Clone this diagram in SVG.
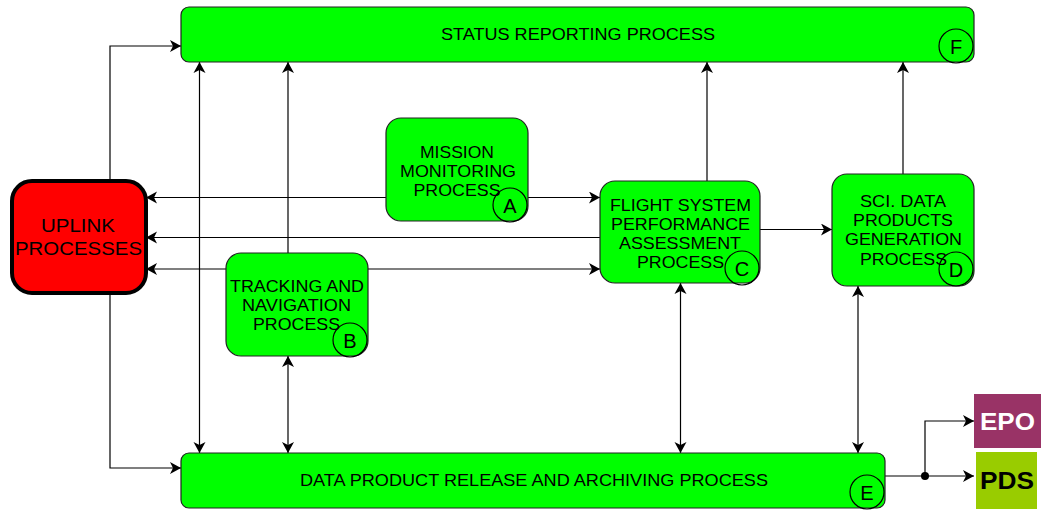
<svg xmlns="http://www.w3.org/2000/svg" width="1041" height="511" viewBox="0 0 1041 511">
<style>
.n{fill:#00ff00;stroke:#222;stroke-width:1.2}
.l{fill:none;stroke:#000;stroke-width:1.2}
text{font-family:"Liberation Sans",Arial,sans-serif;font-size:16.500px;fill:#000;text-anchor:middle}
.k{font-size:20px}
.e{fill:none;stroke:#000;stroke-width:1.2;marker-end:url(#a)}
.d{fill:none;stroke:#000;stroke-width:1.2;marker-start:url(#s);marker-end:url(#a)}
.u{font-size:18.500px}
.b{font-size:24px;font-weight:700}
</style>
<defs>
<marker id="a" markerUnits="userSpaceOnUse" markerWidth="14" markerHeight="14" refX="11" refY="6" orient="auto"><path d="M0,0 L11,6 L0,12 L3,6 Z" fill="#000"/></marker>
<marker id="s" markerUnits="userSpaceOnUse" markerWidth="14" markerHeight="14" refX="0" refY="6" orient="auto"><path d="M11,0 L0,6 L11,12 L8,6 Z" fill="#000"/></marker>
</defs>
<g id="connectors">
<path class="e" d="M110,181V46H181"/>
<path class="e" d="M110,293V468H181"/>
<path class="d" d="M199.500,62V453"/>
<path class="e" d="M288,253V62"/>
<path class="d" d="M288,356V453"/>
<path class="e" d="M386,197.500H146"/>
<path class="e" d="M528,197.500H600"/>
<path class="e" d="M600,237.500H146"/>
<path class="e" d="M226,269H146"/>
<path class="e" d="M368,269H600"/>
<path class="e" d="M707,181V62"/>
<path class="e" d="M903,174V62"/>
<path class="e" d="M760,229.500H832"/>
<path class="d" d="M680.500,283V453"/>
<path class="d" d="M858,286V453"/>
<path class="e" d="M885,476H974"/>
<path class="e" d="M925,476V421H974"/>
<circle cx="925" cy="476" r="4" fill="#000"/>
</g>
<g id="node-f"><rect class="n" x="181" y="7" width="793" height="55" rx="8"/><text x="578" y="40" textLength="274" lengthAdjust="spacingAndGlyphs">STATUS REPORTING PROCESS</text><circle class="l" cx="956" cy="46" r="17"/><text class="k" x="956" y="53.500">F</text></g>
<g id="node-a"><rect class="n" x="386" y="118" width="142" height="103" rx="15"/><text x="457" y="158" textLength="74" lengthAdjust="spacingAndGlyphs">MISSION</text><text x="458" y="177" textLength="116" lengthAdjust="spacingAndGlyphs">MONITORING</text><text x="457" y="196" textLength="87" lengthAdjust="spacingAndGlyphs">PROCESS</text><circle class="l" cx="510" cy="205" r="17"/><text class="k" x="510" y="212.500">A</text></g>
<g id="node-c"><rect class="n" x="600" y="181" width="160" height="102" rx="15"/><text x="680.500" y="211" textLength="141" lengthAdjust="spacingAndGlyphs">FLIGHT SYSTEM</text><text x="680.500" y="230" textLength="139" lengthAdjust="spacingAndGlyphs">PERFORMANCE</text><text x="680" y="249" textLength="122" lengthAdjust="spacingAndGlyphs">ASSESSMENT</text><text x="680.500" y="268" textLength="87" lengthAdjust="spacingAndGlyphs">PROCESS</text><circle class="l" cx="742" cy="268" r="17"/><text class="k" x="742" y="275.500">C</text></g>
<g id="node-d"><rect class="n" x="832" y="174" width="142" height="112" rx="15"/><text x="903" y="207" textLength="86" lengthAdjust="spacingAndGlyphs">SCI. DATA</text><text x="903" y="226" textLength="100" lengthAdjust="spacingAndGlyphs">PRODUCTS</text><text x="903.500" y="245" textLength="117" lengthAdjust="spacingAndGlyphs">GENERATION</text><text x="903.500" y="265" textLength="87" lengthAdjust="spacingAndGlyphs">PROCESS</text><circle class="l" cx="956" cy="269" r="17"/><text class="k" x="956" y="276.500">D</text></g>
<g id="node-b"><rect class="n" x="226" y="253" width="142" height="103" rx="15"/><text x="297" y="292" textLength="134" lengthAdjust="spacingAndGlyphs">TRACKING AND</text><text x="296.500" y="311" textLength="109" lengthAdjust="spacingAndGlyphs">NAVIGATION</text><text x="296.500" y="330" textLength="87" lengthAdjust="spacingAndGlyphs">PROCESS</text><circle class="l" cx="350" cy="340" r="17"/><text class="k" x="350" y="347.500">B</text></g>
<g id="node-uplink"><rect x="12" y="181" width="134" height="112" rx="20" fill="#ff0000" stroke="#000" stroke-width="4"/><text class="u" x="78" y="232" textLength="74" lengthAdjust="spacingAndGlyphs">UPLINK</text><text class="u" x="78.500" y="255" textLength="127" lengthAdjust="spacingAndGlyphs">PROCESSES</text></g>
<g id="node-e"><rect class="n" x="181" y="453" width="704" height="55" rx="8"/><text x="534" y="486" textLength="468" lengthAdjust="spacingAndGlyphs">DATA PRODUCT RELEASE AND ARCHIVING PROCESS</text><circle class="l" cx="867" cy="492" r="17"/><text class="k" x="867" y="499.500">E</text></g>
<g id="node-epo"><rect x="974" y="394" width="67" height="54" fill="#993366"/><text class="b" x="1007.500" y="430" textLength="55" lengthAdjust="spacingAndGlyphs" style="fill:#fff">EPO</text></g>
<g id="node-pds"><rect x="976" y="452" width="61" height="57" fill="#99cc00"/><text class="b" x="1007" y="489" textLength="54" lengthAdjust="spacingAndGlyphs">PDS</text></g>
</svg>
